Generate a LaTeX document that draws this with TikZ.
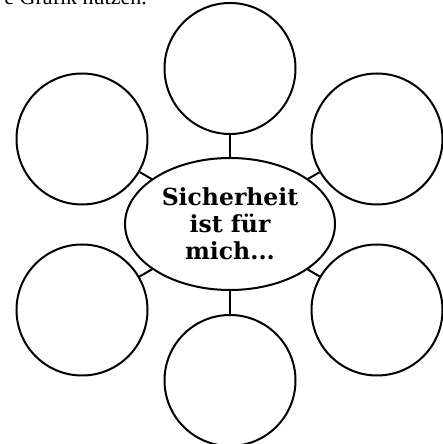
\documentclass[tikz,border=0pt]{standalone}
\usepackage{fontspec}
\setmainfont{DejaVu Serif}
\newfontfamily\notefont{Liberation Serif}
\usetikzlibrary{shapes.geometric,positioning}

\begin{document}
\begin{tikzpicture}[
    x=1pt, y=1pt,
    bubble/.style={circle, draw=black, line width=2pt, minimum size=131pt, inner sep=0pt},
    core/.style={ellipse, draw=black, line width=2pt, minimum width=210pt, minimum height=132pt, inner sep=0pt, align=center, font=\fontsize{23.5}{27}\selectfont\bfseries},
    link/.style={line width=2pt}
]
    \useasboundingbox (0,0) rectangle (443,444);

    % Cut-off line above
    \node[anchor=base east, inner sep=0pt, font=\notefont\fontsize{22}{26}\selectfont] (note) at (147,439) {e Grafik nutzen.};

    % Centre
    \node[core] (centre) at (230,220) {Sicherheit\\ist für\\mich...};

    % Bubbles
    \node[bubble, above=22pt of centre] (top) {};
    \node[bubble, below=23pt of centre] (bottom) {};
    \node[bubble] (upleft) at (82,305) {};
    \node[bubble] (upright) at (377,305) {};
    \node[bubble] (lowleft) at (82,134) {};
    \node[bubble] (lowright) at (377,134) {};

    % Links
    \foreach \b in {top,bottom,upleft,upright,lowleft,lowright}
        \draw[link] (\b) -- (centre);

\end{tikzpicture}
\end{document}
